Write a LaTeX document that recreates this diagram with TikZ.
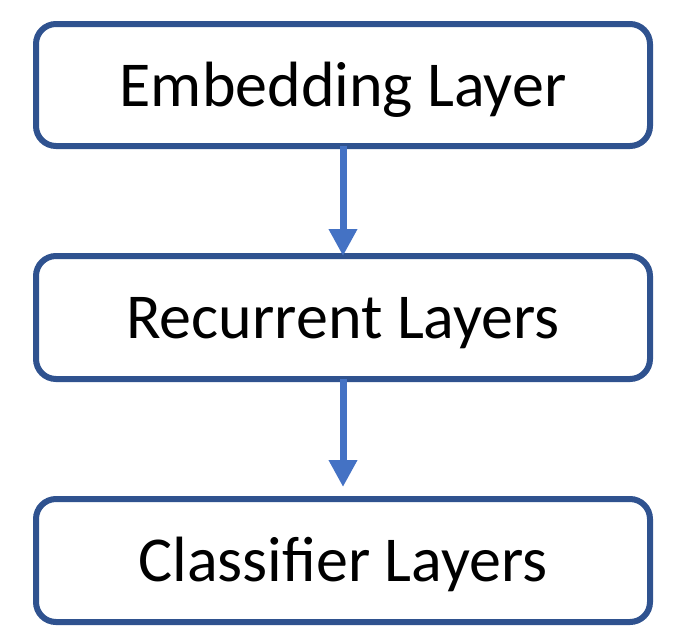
\documentclass[tikz,border=0pt]{standalone}
\usepackage{fontspec}
\setmainfont{Carlito}
\usetikzlibrary{arrows.meta,calc}
\definecolor{boxblue}{HTML}{2F528F}
\definecolor{arrowblue}{HTML}{4472C4}
\begin{document}
\begin{tikzpicture}[x=1pt,y=-1pt,
  layerbox/.style={draw=boxblue, line width=6pt, rounded corners=20pt, fill=white,
    minimum width=614pt, outer sep=0pt, inner sep=0pt,
    font=\fontsize{64}{76}\selectfont, text height=42pt, text depth=0pt},
  flow/.style={draw=arrowblue, line width=7pt,
    -{Triangle[length=27pt 0 0, width=27pt 0 0]}}]
\useasboundingbox (0,0) rectangle (685,641);
\node[layerbox, minimum height=122pt] (emb) at (343,85) {Embedding Layer};
\node[layerbox, minimum height=123pt] (rec) at (343,317.5) {Recurrent Layers};
\node[layerbox, minimum height=123pt] (cls) at (343,560.5) {Classifier Layers};
\coordinate (tip2) at ($(cls.north)+(0,-12)$);
\draw[flow] (emb.south) -- (rec.north);
\draw[flow] (rec.south) -- (tip2);
\end{tikzpicture}
\end{document}
